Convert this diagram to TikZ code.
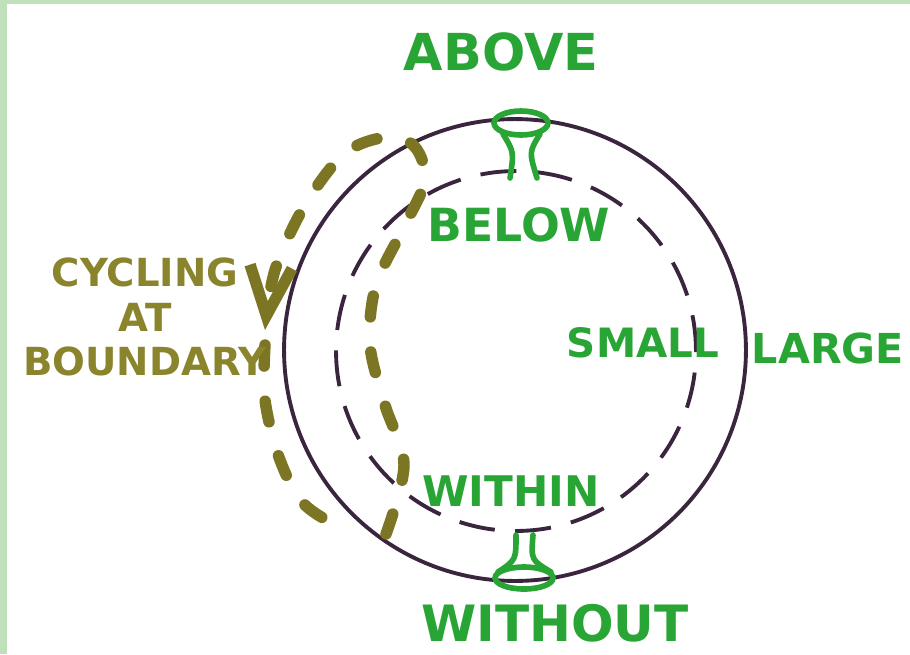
\documentclass[tikz,border=0pt]{standalone}
\usepackage{fontspec}
\setmainfont{DejaVu Sans}
\usetikzlibrary{arrows.meta}
\definecolor{rimcol}{RGB}{58,36,62}
\definecolor{labelgreen}{RGB}{40,165,52}
\definecolor{cycleolive}{RGB}{138,132,44}
\definecolor{arcolive}{RGB}{124,118,36}
\definecolor{bggreen}{RGB}{192,224,188}
\begin{document}
\begin{tikzpicture}[x=0.02cm, y=-0.02cm,
    rim/.style={draw=rimcol, line width=2.2pt},
    gate/.style={draw=labelgreen, line width=3.2pt, line cap=round},
    lbl/.style={text=labelgreen, inner sep=0pt, font=\bfseries\fontsize{#1}{#1}\selectfont},
    cyc/.style={draw=arcolive, line width=6.5pt, line cap=round, dash pattern=on 12pt off 20pt}]
    \useasboundingbox (0,0) rectangle (910,654);

    % Paper and green edges
    \fill[white] (0,0) rectangle (910,654);
    \fill[bggreen] (0,0) rectangle (7,654);
    \fill[bggreen] (0,0) rectangle (910,4);

    % Circles
    \draw[rim] (515,350) circle[radius=4.62cm];
    \draw[rim, dash pattern=on 0.72cm off 0.41cm] (516,351) circle[radius=3.6cm];

    % Gates on the rim
    \draw[gate] (521,123) ellipse[x radius=0.54cm, y radius=0.24cm];
    \draw[gate] (503,134) .. controls (514,152) .. (510,178);
    \draw[gate] (540,134) .. controls (529,152) .. (537,178);
    \draw[gate] (524,578) ellipse[x radius=0.58cm, y radius=0.22cm];
    \draw[gate] (516,535) .. controls (516,560) .. (498,572);
    \draw[gate] (533,535) .. controls (531,560) .. (551,572);

    % Cycling path
    \draw[cyc, -{Straight Barb[length=28pt, width=24pt]}] plot[smooth, tension=0.55] coordinates
        {(386,534) (404,465) (385,405) (370,345) (376,285) (405,225) (425,180) (415,147)
         (388,137) (345,153) (305,205) (275,270) (265,330)};
    \draw[cyc] plot[smooth, tension=0.55] coordinates
        {(265,345) (265,400) (280,460) (305,505) (352,534)};

    % Labels
    \node[lbl=29] (above) at (501,52) {ABOVE};
    \node[lbl=26] (below) at (519,225) {BELOW};
    \node[lbl=23] (small) at (643,343) {SMALL};
    \node[lbl=23.5] (large) at (828,348) {LARGE};
    \node[lbl=24] (within) at (511,491) {WITHIN};
    \node[lbl=28.5] (without) at (555,623) {WITHOUT};
    \node[text=cycleolive, inner sep=0pt, align=center, font=\bfseries\fontsize{22}{25.5}\selectfont]
        (cycling) at (145,317) {CYCLING\\AT\\BOUNDARY};
\end{tikzpicture}
\end{document}
